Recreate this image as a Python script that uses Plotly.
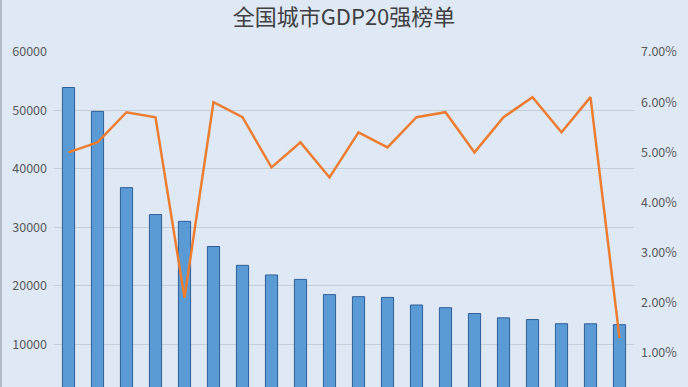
import plotly.graph_objects as go

cities = ["上海", "北京", "深圳", "重庆", "广州", "苏州", "成都", "杭州", "武汉", "南京",
          "宁波", "天津", "青岛", "无锡", "长沙", "郑州", "福州", "济南", "合肥", "佛山"]
gdp = [53927, 49843, 36802, 32193, 31033, 26727, 23511, 21860, 21106, 18501,
       18148, 18024, 16720, 16263, 15269, 14532, 14237, 13528, 13508, 13362]
growth = [0.050, 0.052, 0.058, 0.057, 0.021, 0.060, 0.057, 0.047, 0.052, 0.045,
          0.054, 0.051, 0.057, 0.058, 0.050, 0.057, 0.061, 0.054, 0.061, 0.013]

title_text = "全国城市GDP20强榜单"
font_family = "Noto Sans CJK SC, Noto Sans, sans-serif"

fig = go.Figure()
fig.add_trace(go.Bar(
    x=cities, y=gdp, name="GDP",
    marker=dict(color="#5b9bd5", line=dict(color="#2f5e98", width=1)),
    yaxis="y",
))
fig.add_trace(go.Scatter(
    x=cities, y=growth, name="增速", mode="lines",
    line=dict(color="#ed7d31", width=2.5),
    yaxis="y2",
))

fig.update_layout(
    width=688, height=387,
    margin=dict(l=54, r=54, t=52, b=0, autoexpand=False),
    paper_bgcolor="#dfe9f5",
    plot_bgcolor="#dfe9f5",
    showlegend=False,
    bargap=0.58,
    title=dict(text=title_text, x=0.5, xanchor="center", y=0.955, yanchor="middle",
               font=dict(family=font_family, size=22, color="#404040")),
    font=dict(family=font_family, color="#595959", size=12.5),
    xaxis=dict(showgrid=False, showline=False, zeroline=False, showticklabels=False,
               automargin=False),
    yaxis=dict(range=[2700, 60000], dtick=10000, tickformat="d",
               showgrid=True, gridcolor="#c5cdd7", gridwidth=1, automargin=False,
               zeroline=False, showline=False, ticklabelstandoff=6),
    yaxis2=dict(range=[0.00325, 0.07], dtick=0.01, tickformat=".2%",
                overlaying="y", side="right", showgrid=False, zeroline=False,
                showline=False, ticklabelstandoff=6, automargin=False),
)

fig.add_shape(type="rect", xref="paper", yref="paper",
              x0=-54/580, x1=-52/580, y0=-0.01, y1=1 + 52/335,
              line=dict(width=0), fillcolor="#b3bcc6", layer="above")

fig.write_html("out.html")
